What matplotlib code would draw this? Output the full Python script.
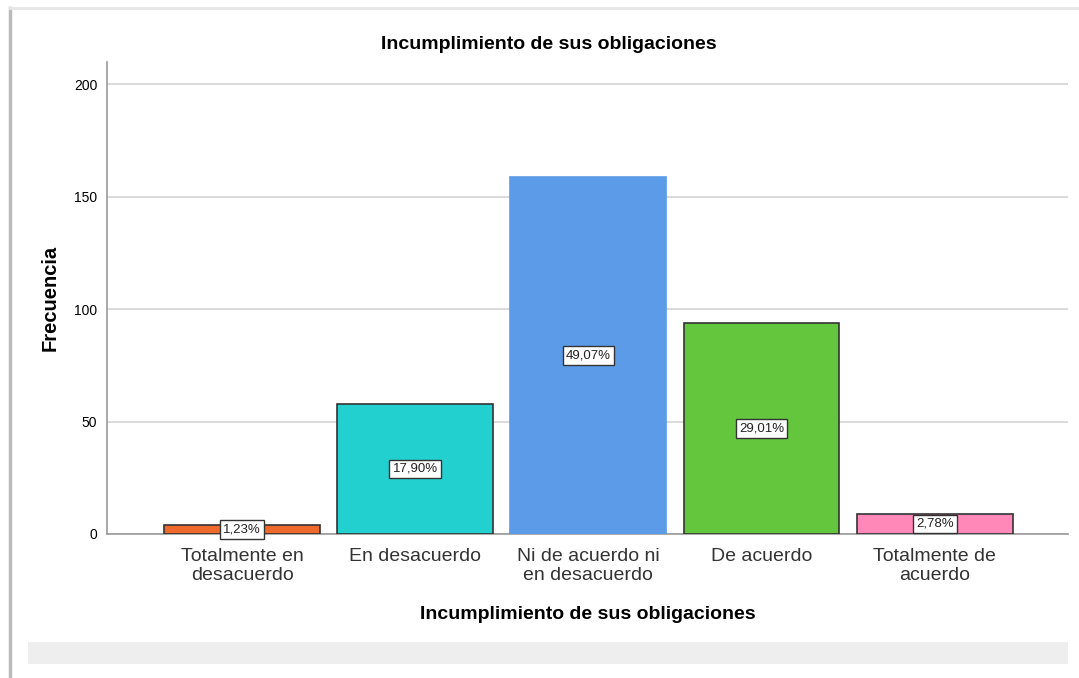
import matplotlib.pyplot as plt
from matplotlib.patches import Rectangle
from matplotlib.lines import Line2D
import numpy as np

plt.rcParams['font.family'] = ['Liberation Sans', 'DejaVu Sans']

categorias = ['Totalmente en\ndesacuerdo', 'En desacuerdo', 'Ni de acuerdo ni\nen desacuerdo',
              'De acuerdo', 'Totalmente de\nacuerdo']
frecuencias = [4, 58, 159, 94, 9]
porcentajes = ['1,23%', '17,90%', '49,07%', '29,01%', '2,78%']
colores = ['#EE6A2C', '#23D0D0', '#5B9BE8', '#63C63D', '#FF88B9']
bordes = ['#333333', '#333333', '#5B9BE8', '#333333', '#333333']

fig = plt.figure(figsize=(10.79, 6.78), dpi=100)
ax = fig.add_axes([0.0992, 0.2124, 0.8906, 0.6962])

x = np.arange(len(categorias))
ax.bar(x, frecuencias, width=0.9, color=colores, edgecolor=bordes, linewidth=1.2, zorder=3)

for xi, f, p in zip(x, frecuencias, porcentajes):
    ax.text(xi, f / 2, p, ha='center', va='center', fontsize=9.5, color='#222222', zorder=4,
            bbox=dict(boxstyle='square,pad=0.25', fc='white', ec='#333333', lw=1))

ax.set_xlim(-0.78, 4.77)
ax.set_ylim(0, 210)
ax.set_yticks([0, 50, 100, 150, 200])
ax.set_xticks(x)
ax.set_xticklabels(categorias, fontsize=14, color='#333333', linespacing=1.2)
ax.tick_params(axis='y', labelsize=10, length=0, pad=7)
ax.tick_params(axis='x', length=0, pad=10)
ax.grid(axis='y', color='#d4d4d4', lw=1.2, zorder=0)

for s in ['top', 'right']:
    ax.spines[s].set_visible(False)
ax.spines['left'].set_color('#999999')
ax.spines['bottom'].set_color('#999999')
ax.spines['left'].set_linewidth(1.2)
ax.spines['bottom'].set_linewidth(1.2)

ax.set_title('Incumplimiento de sus obligaciones', fontsize=14, fontweight='bold', x=0.46, y=1.036, pad=0)
ax.title.set_va('center')
ax.set_xlabel('Incumplimiento de sus obligaciones', fontsize=14, fontweight='bold')
ax.xaxis.set_label_coords(0.5, -0.17)
ax.xaxis.label.set_va('center')
ax.set_ylabel('Frecuencia', fontsize=14.5, fontweight='bold')
ax.yaxis.set_label_coords(-0.059, 0.5)
ax.yaxis.label.set_va('center')

# marco y franja gris inferior
fig.add_artist(Line2D([10 / 1079, 10 / 1079], [0, 1 - 8 / 678], color='#bbbbbb', lw=2.5))
fig.add_artist(Line2D([10 / 1079, 1], [1 - 8 / 678, 1 - 8 / 678], color='#e6e6e6', lw=2))
fig.add_artist(Rectangle((28 / 1079, (678 - 664) / 678), 1040 / 1079, 22 / 678,
                         transform=fig.transFigure, fc='#eeeeee', ec='none'))

fig.savefig('out.png', dpi=100)
